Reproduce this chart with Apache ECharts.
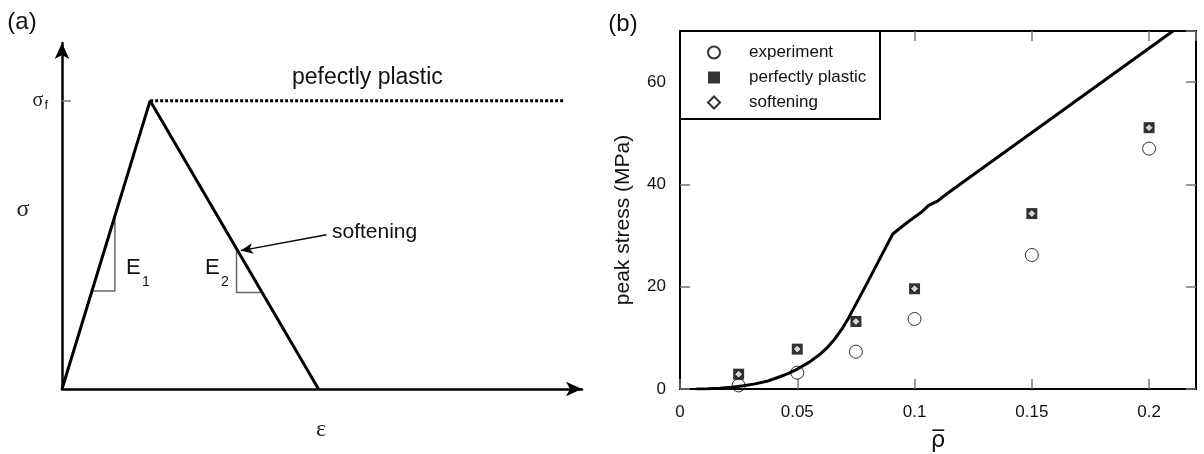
<!DOCTYPE html>
<html><head><meta charset="utf-8">
<script src="https://cdn.jsdelivr.net/npm/echarts@6/dist/echarts.min.js"></script>
<style>html,body{margin:0;padding:0;background:#fff}#c{width:1204px;height:454px}</style>
</head><body><div id="c"></div>
<script>
// ---------- Panel (b): peak stress vs relative density ----------
const rhoSamples = [0.025, 0.05, 0.075, 0.1, 0.15, 0.2];
const experiment = [0.7, 3.2, 7.3, 13.7, 26.2, 47.0];
const perfectlyPlastic = [2.9, 7.8, 13.2, 19.6, 34.3, 51.1];
const softening = [2.9, 7.8, 13.2, 19.6, 34.3, 51.1];
const modelRho = [0.007, 0.012, 0.017, 0.022, 0.027, 0.032, 0.037, 0.042, 0.046, 0.050, 0.055, 0.060, 0.063, 0.066, 0.069, 0.072, 0.075, 0.080, 0.085, 0.0907, 0.097, 0.103, 0.106, 0.110, 0.113, 0.116, 0.2102];
const modelStress = [0, 0.06, 0.17, 0.35, 0.62, 1.0, 1.5, 2.3, 3.0, 3.9, 5.2, 6.9, 8.2, 9.8, 11.7, 14.0, 16.6, 20.9, 25.3, 30.3, 32.6, 34.6, 35.9, 36.8, 37.9, 38.9, 70];
const rhoAxis = {min: 0, max: 0.22, interval: 0.05};
const stressAxis = {min: 0, max: 70, interval: 20};

// ---------- Panel (a): schematic stress-strain (strain / peak strain, stress / sigma_f) ----------
const schemAxis = {strainMax: 5.9, stressMax: 1.2};
const elasticSoftStrain = [0, 1, 2.91];
const elasticSoftStress = [0, 1, 0];
const plasticStrain = [1, 5.7];
const plasticStress = [1, 1];
const e1Strain = [0.34, 0.6, 0.6];
const e1Stress = [0.34, 0.34, 0.6];
const e2Strain = [1.98, 1.98, 2.27];
const e2Stress = [0.487, 0.335, 0.335];
const arrowFrom = [3.0, 0.535];
const arrowTo = [2.03, 0.48];
const sigmaF = 1;

const zip = (a, b) => a.map((v, i) => [v, b[i]]);
const FONT = 'Liberation Sans';

const chart = echarts.init(document.getElementById('c'), null, {renderer: 'canvas'});
chart.setOption({
  animation: false,
  backgroundColor: '#fff',
  textStyle: {fontFamily: FONT, color: '#000'},
  grid: [
    {left: 62, top: 43, width: 520, height: 346, outerBoundsMode: 'none', containLabel: false},
    {left: 680, top: 31, right: 8, bottom: 65, outerBoundsMode: 'none', containLabel: false,
     show: true, borderColor: '#000', borderWidth: 2, backgroundColor: 'transparent'}
  ],
  xAxis: [
    {gridIndex: 0, type: 'value', min: 0, max: schemAxis.strainMax,
     axisLine: {show: true, symbol: ['none', 'arrow'], symbolSize: [11, 16], lineStyle: {color: '#000', width: 2.5}},
     axisTick: {show: false}, axisLabel: {show: false}, splitLine: {show: false}},
    {gridIndex: 1, type: 'value', min: rhoAxis.min, max: rhoAxis.max, interval: rhoAxis.interval,
     axisLine: {show: true, onZero: false, lineStyle: {color: '#000', width: 2}},
     axisTick: {show: true, inside: true, length: 10, lineStyle: {color: '#777', width: 1.5}},
     axisLabel: {show: true, margin: 15, fontSize: 17, color: '#111', showMaxLabel: false},
     splitLine: {show: false},
     name: '\u03C1\u0305', nameLocation: 'middle', nameGap: 41,
     nameTextStyle: {fontSize: 23, fontFamily: 'DejaVu Sans', color: '#111'}},
    {gridIndex: 1, type: 'value', position: 'top', min: rhoAxis.min, max: rhoAxis.max, interval: rhoAxis.interval,
     axisLine: {show: true, onZero: false, lineStyle: {color: '#000', width: 2}},
     axisTick: {show: true, inside: true, length: 10, lineStyle: {color: '#777', width: 1.5}},
     axisLabel: {show: false}, splitLine: {show: false}}
  ],
  yAxis: [
    {gridIndex: 0, type: 'value', min: 0, max: schemAxis.stressMax,
     axisLine: {show: true, symbol: ['none', 'arrow'], symbolSize: [11, 16], lineStyle: {color: '#000', width: 2.5}},
     axisTick: {show: true, inside: true, length: 9, customValues: [sigmaF], lineStyle: {color: '#777', width: 1.5}},
     axisLabel: {show: true, customValues: [sigmaF], margin: 14, formatter: () => '{s|\u03C3}{f|f}',
       rich: {s: {fontSize: 20, fontFamily: 'Liberation Serif', color: '#222'}, f: {fontSize: 13, color: '#222', padding: [10, 0, 0, 1]}}},
     splitLine: {show: false}},
    {gridIndex: 1, type: 'value', min: stressAxis.min, max: stressAxis.max, interval: stressAxis.interval,
     axisLine: {show: true, onZero: false, lineStyle: {color: '#000', width: 2}},
     axisTick: {show: true, inside: true, length: 10, lineStyle: {color: '#777', width: 1.5}},
     axisLabel: {show: true, margin: 14, fontSize: 17, color: '#111', showMaxLabel: false, padding: [10, 0, 0, 0]},
     splitLine: {show: false},
     name: 'peak stress (MPa)', nameLocation: 'middle', nameGap: 46,
     nameTextStyle: {fontSize: 21, color: '#111', padding: [0, 20, 0, 0]}},
    {gridIndex: 1, type: 'value', position: 'right', min: stressAxis.min, max: stressAxis.max, interval: stressAxis.interval,
     axisLine: {show: true, onZero: false, lineStyle: {color: '#000', width: 2}},
     axisTick: {show: true, inside: true, length: 10, lineStyle: {color: '#777', width: 1.5}},
     axisLabel: {show: false}, splitLine: {show: false}}
  ],
  legend: {
    left: 707, top: 44, orient: 'vertical', padding: 0, itemGap: 8, itemWidth: 12, itemHeight: 12, z: 10,
    data: [
      {name: 'experiment', icon: 'circle'},
      {name: 'perfectly plastic', icon: 'rect'},
      {name: 'softening', icon: 'diamond'}
    ],
    formatter: n => '{t|' + n + '}',
    textStyle: {rich: {t: {fontSize: 17, color: '#111', padding: [0, 0, 0, 24], fontFamily: FONT}}}
  },
  graphic: [
    {type: 'rect', z: 5, shape: {x: 680, y: 31, width: 200, height: 88}, style: {fill: '#fff', stroke: '#000', lineWidth: 2}},
    {type: 'text', z: 5, x: 22, y: 22, style: {text: '(a)', font: '24px "Liberation Sans"', fill: '#111', align: 'center', verticalAlign: 'middle'}},
    {type: 'text', z: 5, x: 623, y: 24, style: {text: '(b)', font: '24px "Liberation Sans"', fill: '#111', align: 'center', verticalAlign: 'middle'}},
    {type: 'text', z: 5, x: 23, y: 210, style: {text: '\u03C3', font: '24px "Liberation Serif"', fill: '#222', align: 'center', verticalAlign: 'middle'}},
    {type: 'text', z: 5, x: 321, y: 430, style: {text: '\u03B5', font: '24px "Liberation Serif"', fill: '#222', align: 'center', verticalAlign: 'middle'}},
    {type: 'text', z: 5, x: 292, y: 78, style: {text: 'pefectly plastic', font: '23px "Liberation Sans"', fill: '#111', align: 'left', verticalAlign: 'middle'}},
    {type: 'text', z: 5, x: 332, y: 232, style: {text: 'softening', font: '21px "Liberation Sans"', fill: '#111', align: 'left', verticalAlign: 'middle'}},
    {type: 'text', z: 5, x: 126, y: 268, style: {text: 'E', font: '22px "Liberation Sans"', fill: '#111', align: 'left', verticalAlign: 'middle'}},
    {type: 'text', z: 5, x: 142, y: 282, style: {text: '1', font: '14px "Liberation Sans"', fill: '#111', align: 'left', verticalAlign: 'middle'}},
    {type: 'text', z: 5, x: 205, y: 268, style: {text: 'E', font: '22px "Liberation Sans"', fill: '#111', align: 'left', verticalAlign: 'middle'}},
    {type: 'text', z: 5, x: 221, y: 282, style: {text: '2', font: '14px "Liberation Sans"', fill: '#111', align: 'left', verticalAlign: 'middle'}}
  ],
  series: [
    {name: 'schematic', type: 'line', xAxisIndex: 0, yAxisIndex: 0, data: zip(elasticSoftStrain, elasticSoftStress),
     showSymbol: false, symbol: 'none', lineStyle: {color: '#000', width: 3}, z: 3,
     markLine: {silent: true, symbol: ['none', 'arrow'], symbolSize: [8, 12], label: {show: false},
       lineStyle: {color: '#000', width: 1.3, type: 'solid'},
       data: [[{coord: arrowFrom}, {coord: arrowTo}]]}},
    {name: 'plastic-dotted', type: 'line', xAxisIndex: 0, yAxisIndex: 0, data: zip(plasticStrain, plasticStress),
     showSymbol: false, symbol: 'none', lineStyle: {color: '#000', width: 3, type: [3, 2]}, z: 3},
    {name: 'E1', type: 'line', xAxisIndex: 0, yAxisIndex: 0, data: zip(e1Strain, e1Stress),
     showSymbol: false, symbol: 'none', lineStyle: {color: '#666', width: 1.5}, z: 2},
    {name: 'E2', type: 'line', xAxisIndex: 0, yAxisIndex: 0, data: zip(e2Strain, e2Stress),
     showSymbol: false, symbol: 'none', lineStyle: {color: '#666', width: 1.5}, z: 2},
    {name: 'model', type: 'line', xAxisIndex: 1, yAxisIndex: 1, data: zip(modelRho, modelStress),
     showSymbol: false, symbol: 'none', lineStyle: {color: '#000', width: 3}, z: 3},
    {name: 'experiment', type: 'scatter', xAxisIndex: 1, yAxisIndex: 1, data: zip(rhoSamples, experiment),
     symbol: 'circle', symbolSize: 13, itemStyle: {color: 'rgba(255,255,255,0)', borderColor: '#000', borderWidth: 1}, z: 4},
    {name: 'perfectly plastic', type: 'scatter', xAxisIndex: 1, yAxisIndex: 1, data: zip(rhoSamples, perfectlyPlastic),
     symbol: 'rect', symbolSize: 11, itemStyle: {color: '#000'}, z: 4},
    {name: 'softening', type: 'scatter', xAxisIndex: 1, yAxisIndex: 1, data: zip(rhoSamples, softening),
     symbol: 'diamond', symbolSize: 8, itemStyle: {color: '#fff', borderColor: '#000', borderWidth: 1}, z: 5}
  ]
});
</script></body></html>
